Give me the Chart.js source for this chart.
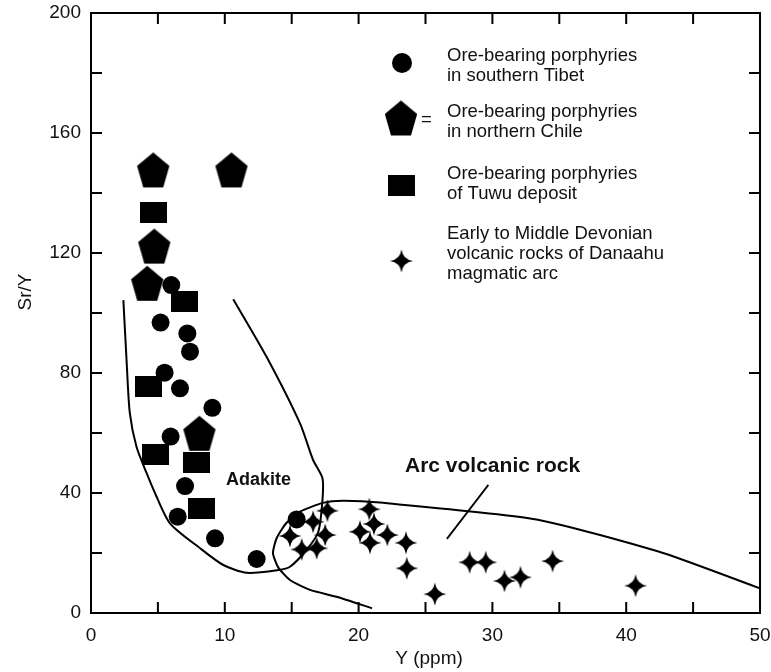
<!DOCTYPE html>
<html>
<head>
<meta charset="utf-8">
<script src="https://cdn.jsdelivr.net/npm/chart.js@4.4.1/dist/chart.umd.min.js"></script>
<style>
  body { margin: 0; background: #fff; }
  #wrap { width: 771px; height: 672px; }
</style>
</head>
<body>
<div id="wrap"><canvas id="srChart"></canvas></div>
<script>
// Ore-bearing porphyries in southern Tibet
const tibetY   = [6.0, 5.2, 7.2, 7.4, 5.5, 6.65, 9.07, 5.95, 7.03, 6.48, 9.27, 12.38, 15.37];
const tibetSrY = [109.3, 96.8, 93.2, 87.1, 80.1, 74.9, 68.4, 58.8, 42.3, 32.1, 24.9, 18.0, 31.2];

// Ore-bearing porphyries in northern Chile
const chileY   = [4.65, 10.5, 4.73, 4.2, 8.1];
const chileSrY = [147.7, 147.7, 122.3, 109.9, 59.9];

// Ore-bearing porphyries of Tuwu deposit
const tuwuY   = [4.7, 7.0, 4.28, 4.79, 7.9, 8.27];
const tuwuSrY = [133.4, 103.8, 75.4, 52.9, 50.2, 34.9];

// Early to Middle Devonian volcanic rocks, Danaahu arc
const danaahuY   = [17.67, 16.6, 14.87, 17.5, 15.75, 16.87, 20.8, 21.15, 20.1, 22.15,
                    20.85, 23.54, 23.6, 25.7, 28.3, 29.5, 30.9, 32.1, 34.5, 40.7];
const danaahuSrY = [34.1, 30.4, 25.7, 26.0, 21.2, 21.6, 34.6, 29.7, 27.1, 26.0,
                    23.4, 23.4, 14.9, 6.3, 16.9, 16.9, 10.7, 11.9, 17.3, 9.1];

// field boundaries
const adakiteY   = [2.42, 2.67, 2.9, 3.4, 4.16, 4.78, 5.9, 8.15, 9.89, 11.64, 14.0, 14.87, 16.1, 16.99, 17.3, 17.3, 16.6, 15.62, 13.12, 10.63];
const adakiteSrY = [104.3, 83.2, 66.7, 55.4, 46.6, 40.0, 29.9, 21.6, 16.0, 13.4, 14.3, 15.4, 21.0, 27.1, 37.7, 44.9, 51.0, 63.2, 85.4, 104.6];

const arcY   = [21.0, 18.36, 16.37, 14.87, 13.98, 13.6, 13.88, 14.6, 15.62, 17.34, 18.83, 21.6, 33.3, 42.75, 50];
const arcSrY = [1.6, 5.4, 7.7, 11.0, 15.3, 20.0, 25.0, 30.0, 33.8, 36.7, 37.4, 36.8, 31.2, 20.0, 8.2];

const leaderY   = [29.7, 26.6];
const leaderSrY = [42.7, 24.7];

const xTitle = "Y (ppm)";
const yTitle = "Sr/Y";
const legendLabels = [
  ["Ore-bearing porphyries", "in southern Tibet"],
  ["Ore-bearing porphyries", "in northern Chile"],
  ["Ore-bearing porphyries", "of Tuwu deposit"],
  ["Early to Middle Devonian", "volcanic rocks of Danaahu", "magmatic arc"]
];

const FONT = '"Liberation Sans", Arial, Helvetica, sans-serif';
const INK = "#111";

function toPoints(xs, ys) {
  return xs.map((v, i) => ({ x: v, y: ys[i] }));
}

function makeMarker(w, h, draw) {
  const c = document.createElement("canvas");
  c.width = w;
  c.height = h;
  const g = c.getContext("2d");
  g.fillStyle = "#000";
  draw(g, w, h);
  return c;
}

const pentagon = makeMarker(34, 37, (g, w, h) => {
  const R = 17, sy = 1.13;
  const cy = h / 2 - ((-R + R * Math.cos(Math.PI / 5)) / 2) * sy;
  g.beginPath();
  for (let k = 0; k < 5; k++) {
    const a = -Math.PI / 2 + k * 2 * Math.PI / 5;
    const px = w / 2 + R * Math.cos(a), py = cy + R * Math.sin(a) * sy;
    if (k) g.lineTo(px, py); else g.moveTo(px, py);
  }
  g.closePath();
  g.fill();
});

const block = makeMarker(27, 21, (g, w, h) => g.fillRect(0, 0, w, h));

const sparkle = makeMarker(24, 24, (g, w, h) => {
  const c = w / 2, r = 11.5, q = 1.5;
  g.beginPath();
  g.moveTo(c, c - r);
  g.quadraticCurveTo(c + q, c - q, c + r, c);
  g.quadraticCurveTo(c + q, c + q, c, c + r);
  g.quadraticCurveTo(c - q, c + q, c - r, c);
  g.quadraticCurveTo(c - q, c - q, c, c - r);
  g.closePath();
  g.fill();
});

// frame, inward ticks, legend and field labels
const decorations = {
  id: "decorations",
  afterDatasetsDraw(chart) {
    const { ctx, chartArea: a, scales: { x, y } } = chart;
    ctx.save();
    ctx.strokeStyle = "#000";
    ctx.lineWidth = 2;
    ctx.strokeRect(a.left, a.top, a.right - a.left, a.bottom - a.top);
    ctx.beginPath();
    for (let v = 5; v < 50; v += 5) {
      const px = x.getPixelForValue(v);
      ctx.moveTo(px, a.bottom); ctx.lineTo(px, a.bottom - 11);
      ctx.moveTo(px, a.top); ctx.lineTo(px, a.top + 11);
    }
    for (let v = 20; v < 200; v += 20) {
      const py = y.getPixelForValue(v);
      ctx.moveTo(a.left, py); ctx.lineTo(a.left + 11, py);
      ctx.moveTo(a.right, py); ctx.lineTo(a.right - 11, py);
    }
    ctx.stroke();

    // field labels
    ctx.fillStyle = INK;
    ctx.textBaseline = "middle";
    ctx.textAlign = "left";
    ctx.font = "bold 18px " + FONT;
    ctx.fillText("Adakite", 226, 480);
    ctx.font = "bold 21px " + FONT;
    ctx.fillText("Arc volcanic rock", 405, 466);

    // axis titles
    ctx.font = "19px " + FONT;
    ctx.textAlign = "center";
    ctx.fillText(xTitle, 429, 659);
    ctx.save();
    ctx.translate(26, 292);
    ctx.rotate(-Math.PI / 2);
    ctx.fillText(yTitle, 0, 0);
    ctx.restore();

    // legend
    ctx.beginPath();
    ctx.arc(402, 63, 10, 0, Math.PI * 2);
    ctx.fillStyle = "#000";
    ctx.fill();
    ctx.drawImage(pentagon, 401 - pentagon.width / 2, 118 - pentagon.height / 2);
    ctx.drawImage(block, 401 - block.width / 2, 185.5 - block.height / 2);
    ctx.drawImage(sparkle, 401.5 - sparkle.width / 2, 261 - sparkle.height / 2);

    ctx.fillStyle = INK;
    ctx.textAlign = "left";
    ctx.font = "18.5px " + FONT;
    ctx.fillText("=", 421, 120);
    const firstLine = [56, 112, 173.5, 233.5];
    legendLabels.forEach((lines, i) => {
      lines.forEach((t, j) => ctx.fillText(t, 447, firstLine[i] + j * 20));
    });
    ctx.restore();
  }
};

const lineStyle = { showLine: true, pointRadius: 0, borderColor: "#000", borderWidth: 2, fill: false, order: 1 };

new Chart(document.getElementById("srChart"), {
  type: "scatter",
  data: {
    datasets: [
      { label: "Southern Tibet", data: toPoints(tibetY, tibetSrY), pointStyle: "circle", pointRadius: 9,
        backgroundColor: "#000", borderColor: "#000", borderWidth: 0 },
      { label: "Northern Chile", data: toPoints(chileY, chileSrY), pointStyle: pentagon, pointRadius: 10 },
      { label: "Tuwu deposit", data: toPoints(tuwuY, tuwuSrY), pointStyle: block, pointRadius: 10 },
      { label: "Danaahu arc", data: toPoints(danaahuY, danaahuSrY), pointStyle: sparkle, pointRadius: 10 },
      { label: "Adakite", data: toPoints(adakiteY, adakiteSrY), tension: 0.25, ...lineStyle },
      { label: "Arc volcanic rock", data: toPoints(arcY, arcSrY), tension: 0.2, ...lineStyle },
      { label: "leader", data: toPoints(leaderY, leaderSrY), ...lineStyle, borderWidth: 1.8 }
    ]
  },
  options: {
    responsive: true,
    maintainAspectRatio: false,
    animation: false,
    events: [],
    layout: { padding: { top: 13, right: 11, left: 0, bottom: 0 } },
    plugins: { legend: { display: false }, tooltip: { enabled: false } },
    scales: {
      x: {
        type: "linear", min: 0, max: 50,
        grid: { display: false, drawTicks: false },
        border: { display: false },
        ticks: { stepSize: 10, padding: 11, color: INK, font: { family: FONT, size: 19 } },
        afterFit(s) { s.height = 59; s.paddingLeft = 0; s.paddingRight = 0; }
      },
      y: {
        type: "linear", min: 0, max: 200,
        grid: { display: false, drawTicks: false },
        border: { display: false },
        ticks: { stepSize: 40, padding: 10, color: INK, font: { family: FONT, size: 19 } },
        afterFit(s) { s.width = 91; s.paddingTop = 0; s.paddingBottom = 0; }
      }
    }
  },
  plugins: [decorations]
});
</script>
</body>
</html>
